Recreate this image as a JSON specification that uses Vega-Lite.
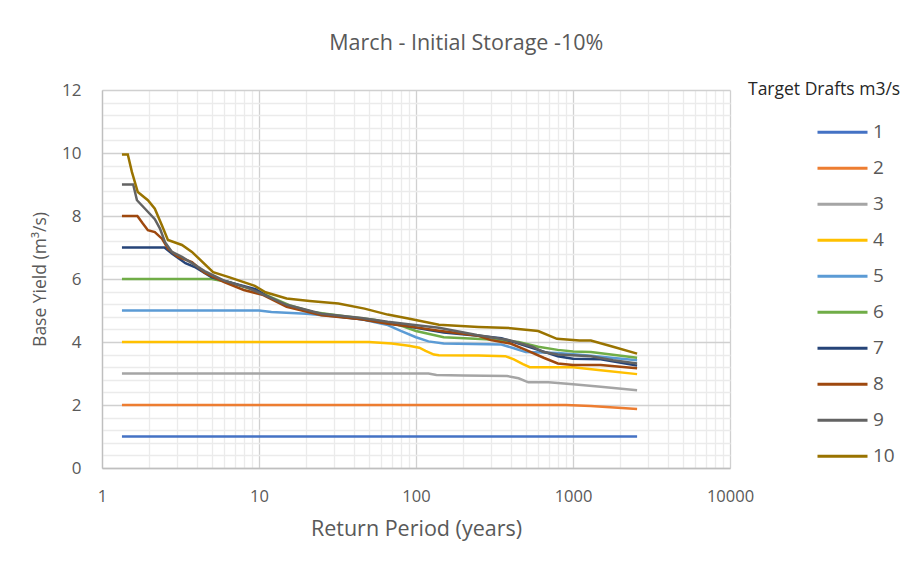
{
  "$schema": "https://vega.github.io/schema/vega-lite/v6.json",
  "width": 628,
  "height": 378,
  "autosize": {"type": "pad"},
  "padding": {"left": 31, "top": 32, "right": 0, "bottom": 10},
  "background": "white",
  "config": {"view": {"stroke": null}, "font": "Open Sans"},
  "title": {"text": "March - Initial Storage -10%", "fontSize": 21.5, "font": "Open Sans", "fontWeight": "normal", "color": "#595959", "offset": 27, "anchor": "middle", "frame": "bounds"},
  "datasets": {
    "yield": [
      {"d": 1, "rp": 1.34, "y": 1}, {"d": 1, "rp": 2560, "y": 1},
      {"d": 2, "rp": 1.34, "y": 2}, {"d": 2, "rp": 900, "y": 2}, {"d": 2, "rp": 1300, "y": 1.97}, {"d": 2, "rp": 2560, "y": 1.87},
      {"d": 3, "rp": 1.34, "y": 3}, {"d": 3, "rp": 120, "y": 3}, {"d": 3, "rp": 135, "y": 2.95}, {"d": 3, "rp": 200, "y": 2.94}, {"d": 3, "rp": 380, "y": 2.92}, {"d": 3, "rp": 450, "y": 2.85}, {"d": 3, "rp": 520, "y": 2.72}, {"d": 3, "rp": 700, "y": 2.72}, {"d": 3, "rp": 1000, "y": 2.66}, {"d": 3, "rp": 1500, "y": 2.58}, {"d": 3, "rp": 2560, "y": 2.47},
      {"d": 4, "rp": 1.34, "y": 4}, {"d": 4, "rp": 50, "y": 4}, {"d": 4, "rp": 70, "y": 3.95}, {"d": 4, "rp": 90, "y": 3.88}, {"d": 4, "rp": 105, "y": 3.82}, {"d": 4, "rp": 115, "y": 3.72}, {"d": 4, "rp": 130, "y": 3.6}, {"d": 4, "rp": 140, "y": 3.58}, {"d": 4, "rp": 250, "y": 3.57}, {"d": 4, "rp": 370, "y": 3.55}, {"d": 4, "rp": 420, "y": 3.45}, {"d": 4, "rp": 480, "y": 3.3}, {"d": 4, "rp": 530, "y": 3.2}, {"d": 4, "rp": 1000, "y": 3.2}, {"d": 4, "rp": 1500, "y": 3.1}, {"d": 4, "rp": 2560, "y": 2.98},
      {"d": 5, "rp": 1.34, "y": 5}, {"d": 5, "rp": 10, "y": 5}, {"d": 5, "rp": 12, "y": 4.95}, {"d": 5, "rp": 20, "y": 4.9}, {"d": 5, "rp": 30, "y": 4.82}, {"d": 5, "rp": 45, "y": 4.72}, {"d": 5, "rp": 65, "y": 4.55}, {"d": 5, "rp": 80, "y": 4.35}, {"d": 5, "rp": 100, "y": 4.15}, {"d": 5, "rp": 120, "y": 4.02}, {"d": 5, "rp": 150, "y": 3.95}, {"d": 5, "rp": 350, "y": 3.92}, {"d": 5, "rp": 420, "y": 3.8}, {"d": 5, "rp": 500, "y": 3.68}, {"d": 5, "rp": 800, "y": 3.65}, {"d": 5, "rp": 1200, "y": 3.58}, {"d": 5, "rp": 2560, "y": 3.42},
      {"d": 6, "rp": 1.34, "y": 6}, {"d": 6, "rp": 5, "y": 6}, {"d": 6, "rp": 6.5, "y": 5.9}, {"d": 6, "rp": 8, "y": 5.75}, {"d": 6, "rp": 10, "y": 5.6}, {"d": 6, "rp": 12, "y": 5.42}, {"d": 6, "rp": 16, "y": 5.15}, {"d": 6, "rp": 22, "y": 4.95}, {"d": 6, "rp": 35, "y": 4.82}, {"d": 6, "rp": 55, "y": 4.7}, {"d": 6, "rp": 80, "y": 4.52}, {"d": 6, "rp": 100, "y": 4.35}, {"d": 6, "rp": 150, "y": 4.15}, {"d": 6, "rp": 300, "y": 4.08}, {"d": 6, "rp": 450, "y": 4.0}, {"d": 6, "rp": 600, "y": 3.85}, {"d": 6, "rp": 800, "y": 3.75}, {"d": 6, "rp": 1000, "y": 3.7}, {"d": 6, "rp": 1300, "y": 3.68}, {"d": 6, "rp": 2560, "y": 3.5},
      {"d": 7, "rp": 1.34, "y": 7}, {"d": 7, "rp": 2.5, "y": 7}, {"d": 7, "rp": 2.8, "y": 6.8}, {"d": 7, "rp": 3.4, "y": 6.5}, {"d": 7, "rp": 3.9, "y": 6.38}, {"d": 7, "rp": 5, "y": 6.05}, {"d": 7, "rp": 7, "y": 5.85}, {"d": 7, "rp": 9.5, "y": 5.68}, {"d": 7, "rp": 11, "y": 5.48}, {"d": 7, "rp": 15, "y": 5.15}, {"d": 7, "rp": 25, "y": 4.88}, {"d": 7, "rp": 45, "y": 4.72}, {"d": 7, "rp": 66, "y": 4.6}, {"d": 7, "rp": 100, "y": 4.45}, {"d": 7, "rp": 150, "y": 4.3}, {"d": 7, "rp": 250, "y": 4.2}, {"d": 7, "rp": 350, "y": 4.12}, {"d": 7, "rp": 450, "y": 3.95}, {"d": 7, "rp": 600, "y": 3.75}, {"d": 7, "rp": 800, "y": 3.55}, {"d": 7, "rp": 1000, "y": 3.47}, {"d": 7, "rp": 1500, "y": 3.45}, {"d": 7, "rp": 2560, "y": 3.25},
      {"d": 8, "rp": 1.34, "y": 8}, {"d": 8, "rp": 1.68, "y": 8}, {"d": 8, "rp": 1.82, "y": 7.76}, {"d": 8, "rp": 1.96, "y": 7.55}, {"d": 8, "rp": 2.17, "y": 7.49}, {"d": 8, "rp": 2.41, "y": 7.28}, {"d": 8, "rp": 2.63, "y": 6.96}, {"d": 8, "rp": 3.05, "y": 6.7}, {"d": 8, "rp": 3.74, "y": 6.54}, {"d": 8, "rp": 4.5, "y": 6.2}, {"d": 8, "rp": 6, "y": 5.9}, {"d": 8, "rp": 8, "y": 5.65}, {"d": 8, "rp": 10.5, "y": 5.5}, {"d": 8, "rp": 15, "y": 5.12}, {"d": 8, "rp": 25, "y": 4.85}, {"d": 8, "rp": 45, "y": 4.72}, {"d": 8, "rp": 66, "y": 4.58}, {"d": 8, "rp": 95, "y": 4.48}, {"d": 8, "rp": 140, "y": 4.36}, {"d": 8, "rp": 250, "y": 4.2}, {"d": 8, "rp": 300, "y": 4.06}, {"d": 8, "rp": 400, "y": 3.95}, {"d": 8, "rp": 500, "y": 3.75}, {"d": 8, "rp": 650, "y": 3.5}, {"d": 8, "rp": 800, "y": 3.32}, {"d": 8, "rp": 1000, "y": 3.27}, {"d": 8, "rp": 1500, "y": 3.27}, {"d": 8, "rp": 2560, "y": 3.17},
      {"d": 9, "rp": 1.34, "y": 9}, {"d": 9, "rp": 1.58, "y": 9}, {"d": 9, "rp": 1.67, "y": 8.5}, {"d": 9, "rp": 1.88, "y": 8.23}, {"d": 9, "rp": 2.17, "y": 7.9}, {"d": 9, "rp": 2.34, "y": 7.6}, {"d": 9, "rp": 2.52, "y": 7.17}, {"d": 9, "rp": 2.79, "y": 6.86}, {"d": 9, "rp": 3.23, "y": 6.7}, {"d": 9, "rp": 4.5, "y": 6.25}, {"d": 9, "rp": 6, "y": 5.95}, {"d": 9, "rp": 8.5, "y": 5.72}, {"d": 9, "rp": 10.5, "y": 5.52}, {"d": 9, "rp": 15, "y": 5.18}, {"d": 9, "rp": 25, "y": 4.9}, {"d": 9, "rp": 45, "y": 4.76}, {"d": 9, "rp": 66, "y": 4.64}, {"d": 9, "rp": 95, "y": 4.55}, {"d": 9, "rp": 140, "y": 4.45}, {"d": 9, "rp": 244, "y": 4.22}, {"d": 9, "rp": 400, "y": 4.05}, {"d": 9, "rp": 550, "y": 3.85}, {"d": 9, "rp": 650, "y": 3.68}, {"d": 9, "rp": 800, "y": 3.6}, {"d": 9, "rp": 1300, "y": 3.55}, {"d": 9, "rp": 1800, "y": 3.42}, {"d": 9, "rp": 2560, "y": 3.32},
      {"d": 10, "rp": 1.34, "y": 9.95}, {"d": 10, "rp": 1.46, "y": 9.95}, {"d": 10, "rp": 1.55, "y": 9.4}, {"d": 10, "rp": 1.69, "y": 8.76}, {"d": 10, "rp": 1.96, "y": 8.5}, {"d": 10, "rp": 2.17, "y": 8.23}, {"d": 10, "rp": 2.41, "y": 7.7}, {"d": 10, "rp": 2.63, "y": 7.24}, {"d": 10, "rp": 3.23, "y": 7.08}, {"d": 10, "rp": 3.74, "y": 6.86}, {"d": 10, "rp": 5.1, "y": 6.22}, {"d": 10, "rp": 6.5, "y": 6.05}, {"d": 10, "rp": 9.4, "y": 5.78}, {"d": 10, "rp": 11, "y": 5.58}, {"d": 10, "rp": 15, "y": 5.38}, {"d": 10, "rp": 21, "y": 5.3}, {"d": 10, "rp": 32, "y": 5.22}, {"d": 10, "rp": 47, "y": 5.06}, {"d": 10, "rp": 66, "y": 4.87}, {"d": 10, "rp": 91, "y": 4.74}, {"d": 10, "rp": 140, "y": 4.55}, {"d": 10, "rp": 250, "y": 4.48}, {"d": 10, "rp": 400, "y": 4.44}, {"d": 10, "rp": 600, "y": 4.35}, {"d": 10, "rp": 790, "y": 4.1}, {"d": 10, "rp": 1100, "y": 4.05}, {"d": 10, "rp": 1300, "y": 4.05}, {"d": 10, "rp": 1800, "y": 3.85}, {"d": 10, "rp": 2560, "y": 3.63}
    ]
  },
  "data": {"name": "yield"},
  "mark": {"type": "line", "strokeWidth": 2.5, "interpolate": "linear"},
  "encoding": {
    "x": {
      "field": "rp", "type": "quantitative",
      "scale": {"type": "log", "domain": [1, 10000], "nice": false},
      "axis": {
        "values": [1,2,3,4,5,6,7,8,9,10,20,30,40,50,60,70,80,90,100,200,300,400,500,600,700,800,900,1000,2000,3000,4000,5000,6000,7000,8000,9000,10000],
        "labelExpr": "indexof([1,10,100,1000,10000], datum.value) >= 0 ? format(datum.value, 'd') : ''",
        "labelOverlap": false, "labelFlush": false,
        "grid": true,
        "gridColor": {"condition": {"test": "indexof([1,10,100,1000,10000], datum.value) >= 0", "value": "#d0d0d0"}, "value": "#ebebeb"},
        "gridWidth": 1.3,
        "ticks": false, "domainColor": "#bfbfbf", "domainWidth": 1.3,
        "labelFont": "Open Sans", "labelFontSize": 16.5, "labelColor": "#595959", "labelPadding": 20,
        "title": "Return Period (years)", "titleFont": "Open Sans", "titleFontSize": 21.5, "titleFontWeight": "normal", "titleColor": "#595959", "titlePadding": 14
      }
    },
    "y": {
      "field": "y", "type": "quantitative",
      "scale": {"domain": [0, 12], "nice": false},
      "axis": {
        "values": [0,0.4,0.8,1.2,1.6,2,2.4,2.8,3.2,3.6,4,4.4,4.8,5.2,5.6,6,6.4,6.8,7.2,7.6,8,8.4,8.8,9.2,9.6,10,10.4,10.8,11.2,11.6,12],
        "labelExpr": "datum.value % 2 === 0 ? format(datum.value, 'd') : ''",
        "labelOverlap": false, "labelFlush": false,
        "grid": true,
        "gridColor": {"condition": {"test": "datum.value % 2 === 0", "value": "#d0d0d0"}, "value": "#ebebeb"},
        "gridWidth": 1.3,
        "ticks": false, "domainColor": "#bfbfbf", "domainWidth": 1.3,
        "labelFont": "Open Sans", "labelFontSize": 17, "labelColor": "#595959", "labelPadding": 21,
        "title": "Base Yield (m³/s)", "titleFont": "Open Sans", "titleFontSize": 17.5, "titleFontWeight": "normal", "titleColor": "#595959", "titlePadding": 12
      }
    },
    "color": {
      "field": "d", "type": "nominal",
      "scale": {"domain": [1,2,3,4,5,6,7,8,9,10], "range": ["#4472C4","#ED7D31","#A5A5A5","#FFC000","#5B9BD5","#70AD47","#264478","#9E480E","#636363","#997300"]},
      "legend": {
        "title": "Target Drafts m3/s", "orient": "right", "offset": 18,
        "titleFont": "Open Sans", "titleFontSize": 17.5, "titleFontWeight": "normal", "titleColor": "#262626", "titlePadding": 7, "titleBaseline": "middle",
        "symbolType": "stroke", "symbolStrokeWidth": 3, "symbolSize": 2500, "clipHeight": 35.4, "rowPadding": 0,
        "symbolOffset": 68, "labelOffset": 4,
        "labelFont": "Open Sans", "labelFontSize": 19, "labelColor": "#595959"
      }
    }
  }
}
